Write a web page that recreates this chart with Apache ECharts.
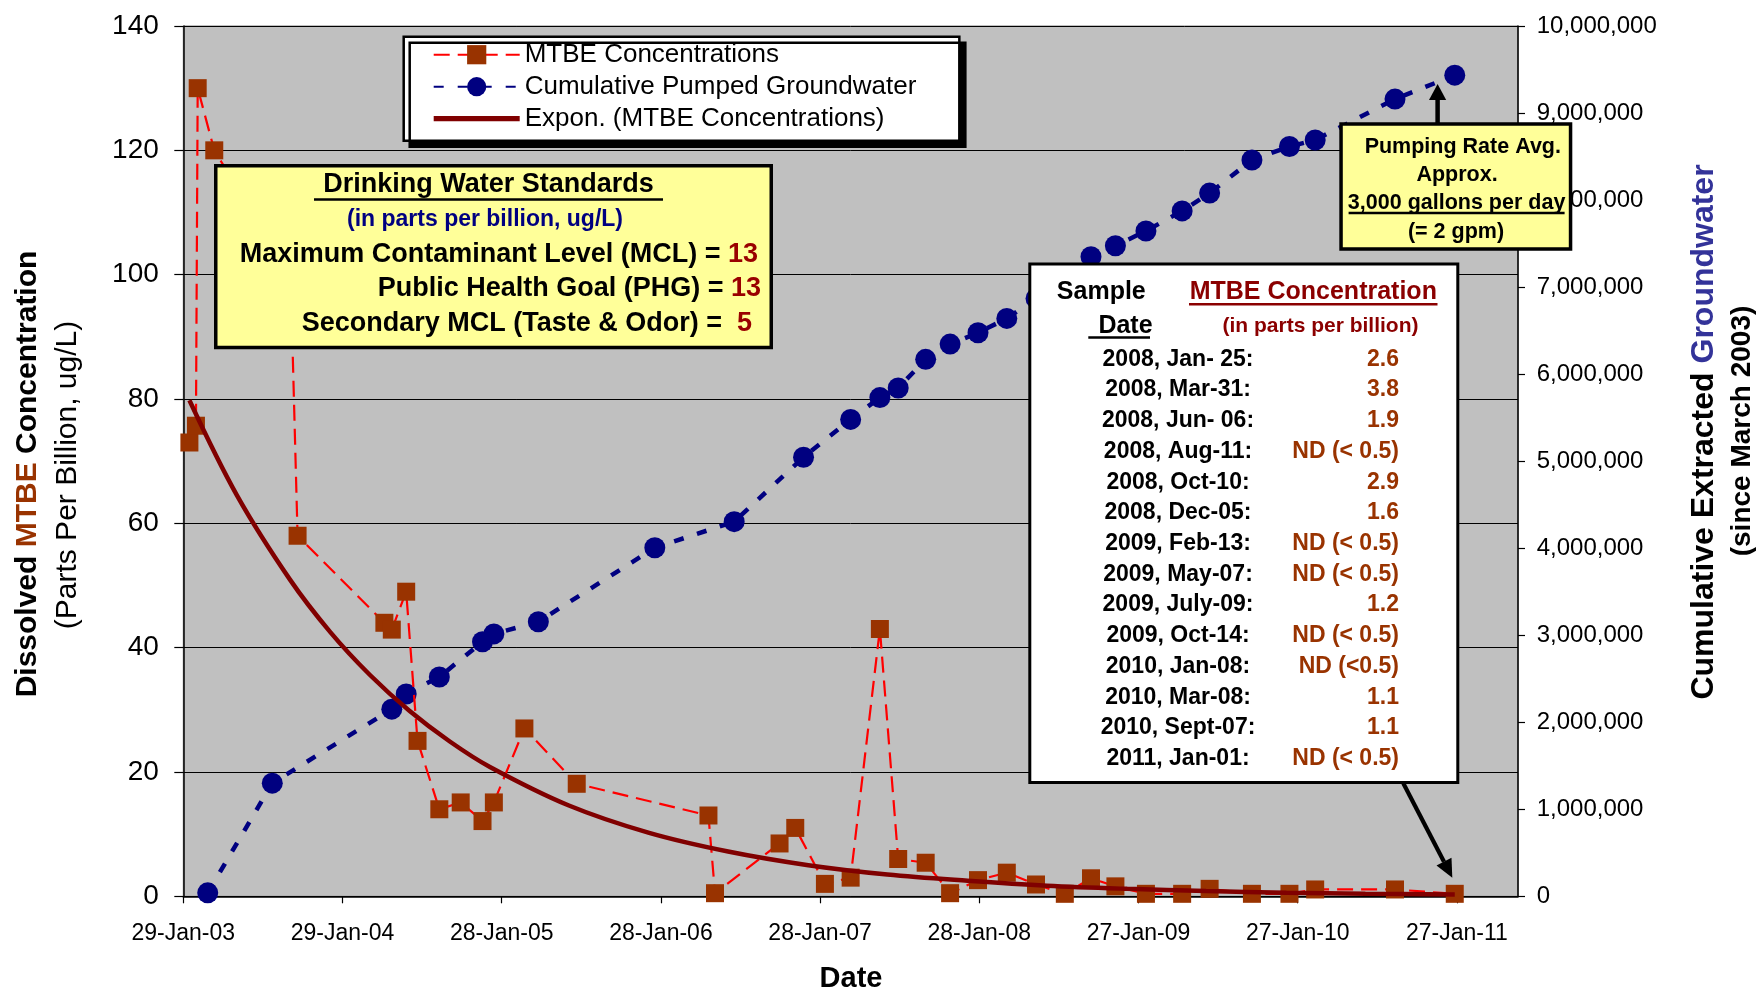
<!DOCTYPE html>
<html><head><meta charset="utf-8">
<script src="https://cdn.jsdelivr.net/npm/echarts@6/dist/echarts.min.js"></script>
<style>html,body{margin:0;padding:0;background:#fff}#c{width:1764px;height:997px}</style>
</head><body><div id="c"></div>
<script>
// ---------------- data ----------------
const BASE_DATE = '2003-01-29';
const xTickLabels = ['29-Jan-03','29-Jan-04','28-Jan-05','28-Jan-06','28-Jan-07','28-Jan-08','27-Jan-09','27-Jan-10','27-Jan-11'];

const mtbeDates = ['2003-02-12','2003-02-27','2003-03-03','2003-04-10','2003-10-02','2003-10-18',
  '2004-05-04','2004-05-21','2004-06-23','2004-07-19','2004-09-07','2004-10-26','2004-12-15',
  '2005-01-10','2005-03-21','2005-07-19','2006-05-17','2006-06-01','2006-10-27','2006-12-02',
  '2007-02-08','2007-04-08','2007-06-14','2007-07-26','2007-09-27','2007-11-22',
  '2008-01-25','2008-03-31','2008-06-06','2008-08-11','2008-10-10','2008-12-05',
  '2009-02-13','2009-05-07','2009-07-09','2009-10-14','2010-01-08','2010-03-08','2010-09-07','2011-01-22'];
const mtbeValues = [73.0,75.7,130.0,120.0,100.0,58.0,
  44.0,42.9,49.0,25.0,14.0,15.1,12.1,
  15.1,27.0,18.1,13.0,0.5,8.5,11.0,
  2.0,3.0,43.0,6.0,5.4,0.5,
  2.6,3.8,1.9,0.4,2.9,1.6,
  0.4,0.4,1.2,0.4,0.4,1.1,1.1,0.4];

const pumpDates = ['2003-03-26','2003-08-21','2004-05-21','2004-06-23','2004-09-07','2004-12-15',
  '2005-01-10','2005-04-22','2006-01-14','2006-07-15','2006-12-21','2007-04-08','2007-06-14',
  '2007-07-26','2007-09-27','2007-11-22','2008-01-25','2008-03-31','2008-06-06','2008-08-11',
  '2008-10-10','2008-12-05','2009-02-13','2009-05-07','2009-07-09','2009-10-14','2010-01-08',
  '2010-03-08','2010-09-07','2011-01-22'];
const pumpValues = [40000,1300000,2150000,2325000,2520000,2925000,
  3015000,3155000,4005000,4305000,5045000,5480000,5730000,
  5840000,6170000,6345000,6475000,6640000,6870000,7100000,
  7350000,7475000,7645000,7875000,8080000,8460000,8615000,
  8690000,9160000,9435000];

const trendDates = ['2003-02-12','2003-06-01','2003-10-01','2004-01-01','2004-04-01','2004-07-01','2004-10-01',
  '2005-01-01','2005-07-01','2006-01-01','2006-07-01','2007-01-01','2007-07-01','2008-01-01','2008-07-01',
  '2009-01-01','2009-07-01','2010-01-01','2010-07-01','2011-01-22'];
const trendValues = [79.8,64.5,50.9,42.5,35.6,29.8,24.9,20.8,14.6,10.2,7.2,5.0,3.5,2.5,1.7,1.2,0.85,0.59,0.42,0.28];

const tableDates = ['2008, Jan- 25:','2008, Mar-31:','2008, Jun- 06:','2008, Aug-11:','2008, Oct-10:','2008, Dec-05:',
  '2009, Feb-13:','2009, May-07:','2009, July-09:','2009, Oct-14:','2010, Jan-08:','2010, Mar-08:','2010, Sept-07:','2011, Jan-01:'];
const tableValues = ['2.6','3.8','1.9','ND (< 0.5)','2.9','1.6','ND (< 0.5)','ND (< 0.5)','1.2','ND (< 0.5)','ND (<0.5)','1.1','1.1','ND (< 0.5)'];

const seriesNames = ['MTBE Concentrations','Cumulative Pumped Groundwater','Expon. (MTBE Concentrations)'];

// ---------------- helpers ----------------
function toDays(s){
  const p = s.split('-').map(Number), b = BASE_DATE.split('-').map(Number);
  return (Date.UTC(p[0],p[1]-1,p[2]) - Date.UTC(b[0],b[1]-1,b[2]))/86400000;
}
const FF = '"Liberation Sans", Arial, sans-serif';
const Z = 100;
function txt(x,y,text,size,opts){
  opts = opts||{};
  return {type:'text', x:x, y:y, z:Z, rotation: opts.rot||0, silent:true,
    style:{text:text, fontSize:size, fontWeight: opts.weight||'bold', fontFamily:FF,
      fill: opts.color||'#000', align: opts.align||'center', verticalAlign:'middle', rich: opts.rich}};
}
function line(x1,y1,x2,y2,w,c){
  return {type:'line', z:Z, silent:true, shape:{x1:x1,y1:y1,x2:x2,y2:y2}, style:{stroke:c||'#000', lineWidth:w}};
}
function rect(x1,y1,x2,y2,lw,fill){
  return {type:'rect', z:Z-1, silent:true, shape:{x:x1+lw/2,y:y1+lw/2,width:x2-x1-lw,height:y2-y1-lw},
    style:{fill:fill, stroke:'#000', lineWidth:lw}};
}
function tri(pts){ return {type:'polygon', z:Z, silent:true, shape:{points:pts}, style:{fill:'#000'}}; }

const elements = [];
// axis titles
elements.push(txt(28,474,'{a|Dissolved }{b|MTBE}{a| Concentration}',30,{rot:Math.PI/2,
  rich:{a:{fontSize:30,fontWeight:'bold',fontFamily:FF,fill:'#000'},b:{fontSize:30,fontWeight:'bold',fontFamily:FF,fill:'#993300'}}}));
elements.push(txt(68,475,'(Parts Per Billion, ug/L)',30,{rot:Math.PI/2,weight:'normal'}));
elements.push(txt(1704,432,'{a|Cumulative Extracted }{b|Groundwater}',32,{rot:Math.PI/2,
  rich:{a:{fontSize:32,fontWeight:'bold',fontFamily:FF,fill:'#000'},b:{fontSize:32,fontWeight:'bold',fontFamily:FF,fill:'#333399'}}}));
elements.push(txt(1742,431,'(since March 2003)',28,{rot:Math.PI/2}));
elements.push(txt(851,979,'Date',29));

// drinking water standards box
elements.push(rect(214,164,773,349.3,3.5,'#FFFF99'));
elements.push(txt(488.5,185,' Drinking Water Standards ',27));
elements.push(line(314,199.5,663,199.5,2.5));
elements.push(txt(485,220,'(in parts per billion, ug/L)',23,{color:'#000080'}));
const richStd = {a:{fontSize:27,fontWeight:'bold',fontFamily:FF,fill:'#000'},b:{fontSize:27,fontWeight:'bold',fontFamily:FF,fill:'#990000'}};
elements.push(txt(758,254.5,'{a|Maximum Contaminant Level (MCL) = }{b|13}',27,{align:'right',rich:richStd}));
elements.push(txt(761,289,'{a|Public Health Goal (PHG) = }{b|13}',27,{align:'right',rich:richStd}));
elements.push(txt(752,323.5,'{a|Secondary MCL (Taste & Odor) =  }{b|5}',27,{align:'right',rich:richStd}));

// sample table box
elements.push(rect(1028.3,262.4,1459.3,784,3,'#FFFFFF'));
elements.push(txt(1101.3,292.5,'Sample',25));
elements.push(txt(1122,326.3,' Date',25));
elements.push(line(1088.3,337.5,1150,337.5,2.5));
elements.push(txt(1313.3,292.5,'MTBE Concentration',25,{color:'#8B0000'}));
elements.push(line(1189,304.3,1437.5,304.3,2.5,'#8B0000'));
elements.push(txt(1320.5,326.3,'(in parts per billion)',21,{color:'#8B0000'}));
tableDates.forEach(function(d,i){
  const y = 359.3 + i*30.72;
  elements.push(txt(1178,y,d,23));
  elements.push(txt(1399,y,tableValues[i],23,{align:'right',color:'#993300'}));
});
// table arrow
elements.push(line(1403.3,783.3,1444.0,861.7,4.2));
elements.push(tri([[1452.3,877.7],[1436.5,865.6],[1451.5,857.8]]));

// pumping box
elements.push(rect(1339.3,122.3,1572.3,250.7,3.5,'#FFFF99'));
elements.push(txt(1462.8,146.7,'Pumping Rate Avg.',21.5));
elements.push(txt(1457,175,'Approx.',21.5));
elements.push(txt(1456.6,203.3,'3,000 gallons per day',21.5));
elements.push(line(1348.6,213,1564.6,213,2.5));
elements.push(txt(1456,232.3,'(= 2 gpm)',21.5));
elements.push(line(1437.6,123,1437.6,99,4.5));
elements.push(tri([[1437.6,84],[1429,100],[1446.2,100]]));

// ---------------- chart ----------------
const chart = echarts.init(document.getElementById('c'), null, {renderer:'canvas', width:1764, height:997});
chart.setOption({
  animation:false,
  backgroundColor:'#FFFFFF',
  grid:{left:183.3, top:26, width:1334.7, height:870.3, show:true, backgroundColor:'#C0C0C0', borderColor:'#808080', borderWidth:1, containLabel:false},
  legend:{
    orient:'vertical', left:403.7, top:36.7, padding:[5,43,9,29], itemWidth:86, itemHeight:24, itemGap:6,
    backgroundColor:'#FFFFFF', borderColor:'#000', borderWidth:2.5,
    shadowColor:'#000', shadowBlur:0, shadowOffsetX:6, shadowOffsetY:6,
    selectedMode:false,
    textStyle:{fontSize:26, fontFamily:FF, color:'#000', lineHeight:26},
    data:[seriesNames[0], seriesNames[1], {name:seriesNames[2], icon:'path://M0,0H100V6H0Z'}]
  },
  xAxis:{
    type:'value', min:0, max:3060, interval:365,
    axisLine:{show:true, lineStyle:{color:'#000', width:1.5}},
    axisTick:{show:true, length:7, lineStyle:{color:'#000', width:1.2}},
    splitLine:{show:false},
    axisLabel:{margin:25.5, fontSize:23, fontFamily:FF, color:'#000', showMaxLabel:false,
      formatter:function(v){ const k = v/365; return Number.isInteger(k) && xTickLabels[k] ? xTickLabels[k] : ''; }}
  },
  yAxis:[
    {type:'value', min:0, max:140, interval:20, position:'left',
      axisLine:{show:true, lineStyle:{color:'#000', width:1.5}},
      axisTick:{show:true, length:9, lineStyle:{color:'#000', width:1.2}},
      splitLine:{show:true, lineStyle:{color:'#000', width:1}},
      axisLabel:{margin:24.5, fontSize:28, fontFamily:FF, color:'#000'}},
    {type:'value', min:0, max:10000000, interval:1000000, position:'right',
      axisLine:{show:true, lineStyle:{color:'#000', width:1.5}},
      axisTick:{show:true, length:7, lineStyle:{color:'#000', width:1.2}},
      splitLine:{show:false},
      axisLabel:{margin:18.7, fontSize:24, fontFamily:FF, color:'#000',
        formatter:function(v){ return v.toLocaleString('en-US'); }}}
  ],
  series:[
    {name:seriesNames[0], type:'line', yAxisIndex:0, z:3,
      data:mtbeDates.map(function(d,i){return [toDays(d), mtbeValues[i]];}),
      symbol:'rect', symbolSize:18, showAllSymbol:true,
      itemStyle:{color:'#993300'}, lineStyle:{color:'#FF0000', width:2.2, type:[16,8]}},
    {name:seriesNames[1], type:'line', yAxisIndex:1, z:2,
      data:pumpDates.map(function(d,i){return [toDays(d), pumpValues[i]];}),
      symbol:'circle', symbolSize:21, showAllSymbol:true,
      itemStyle:{color:'#000080'}, lineStyle:{color:'#000080', width:4.5, type:[10,14]}},
    {name:seriesNames[2], type:'line', yAxisIndex:0, z:4,
      data:trendDates.map(function(d,i){return [toDays(d), trendValues[i]];}),
      symbol:'none', smooth:0.35,
      itemStyle:{color:'#800000'}, lineStyle:{color:'#800000', width:4.5}}
  ],
  graphic:{elements:elements}
});
</script></body></html>
